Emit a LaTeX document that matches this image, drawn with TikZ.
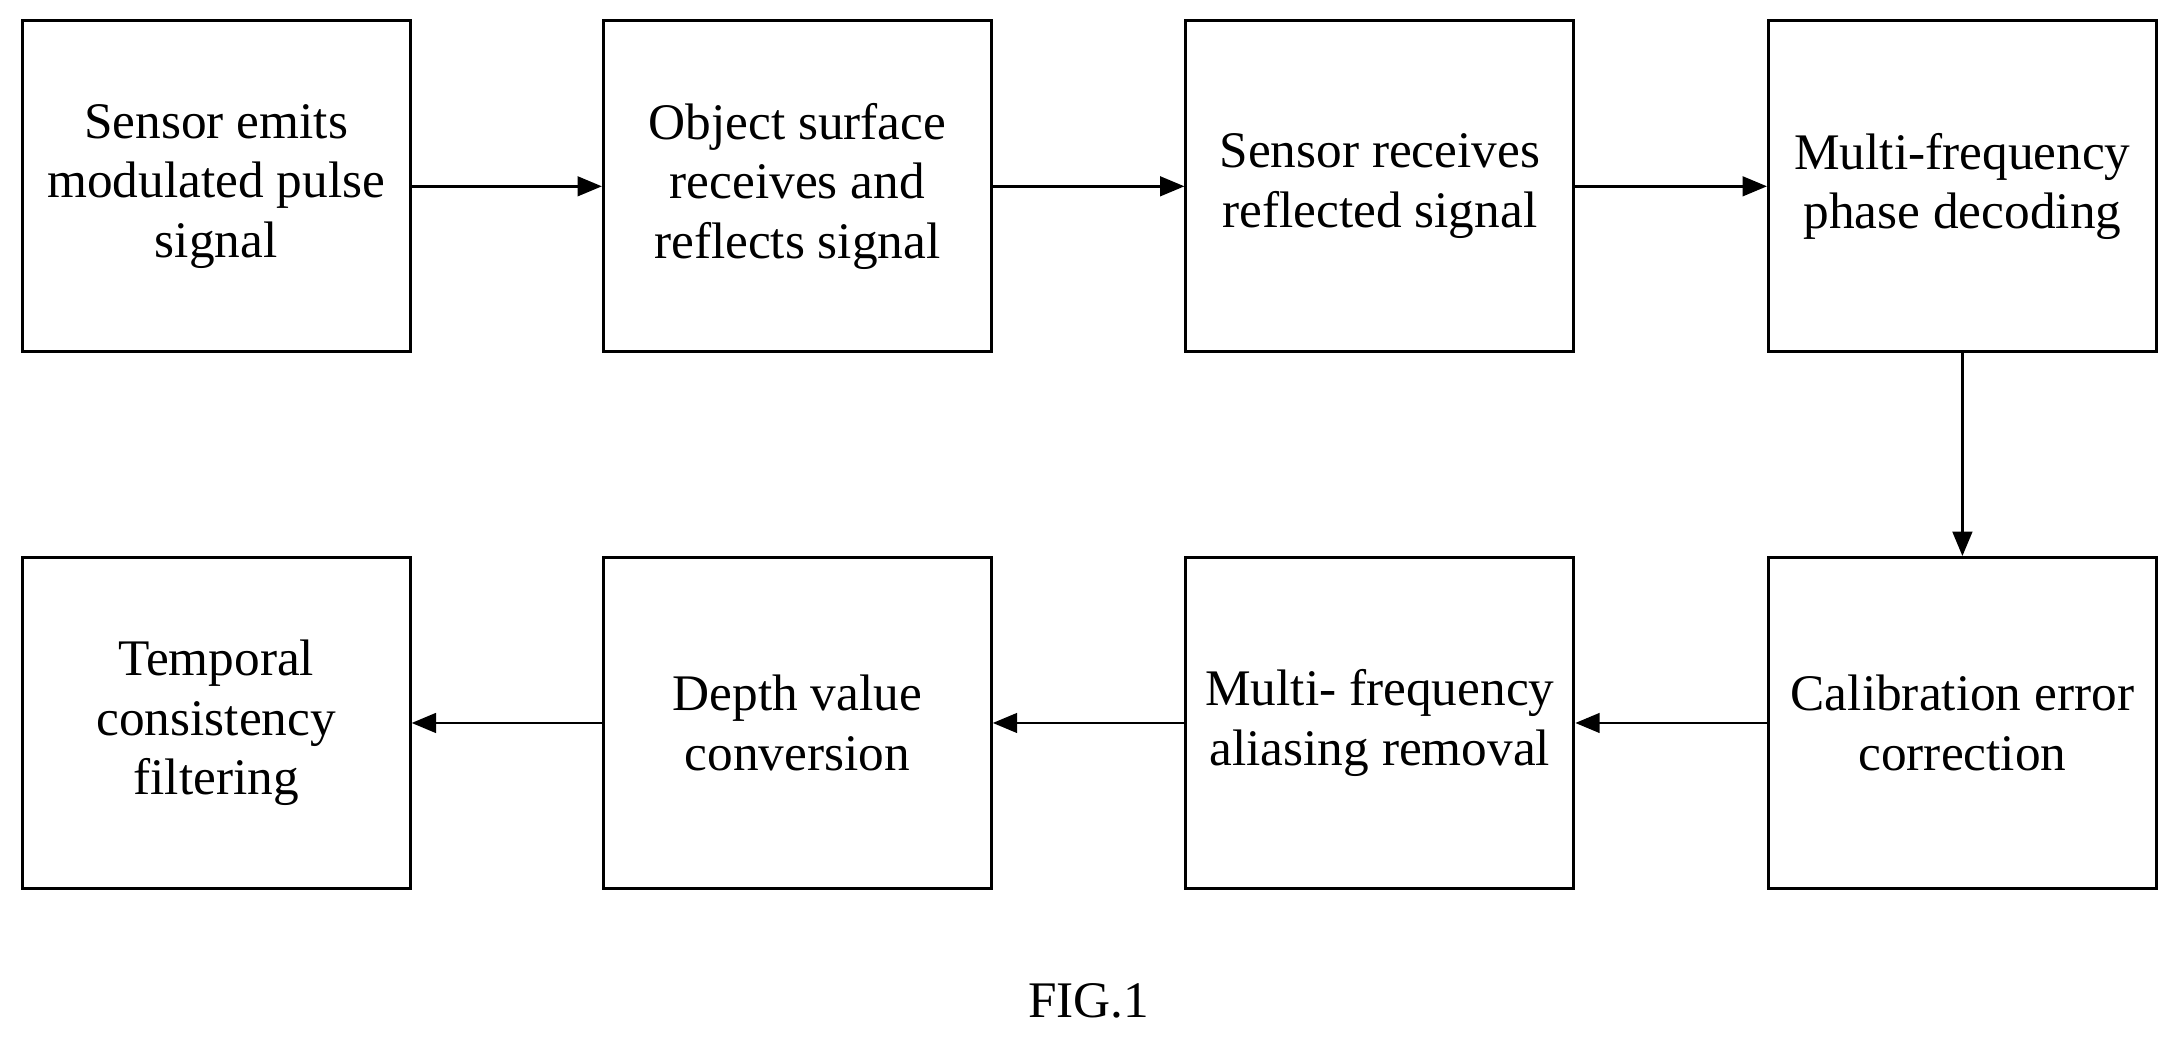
\documentclass[tikz,border=0pt]{standalone}
\usepackage{fontspec}
\setmainfont{Liberation Serif}
\usetikzlibrary{arrows.meta}
\begin{document}
\begin{tikzpicture}[x=0.1mm,y=-0.1mm,
box/.style={draw,line width=0.6pt,minimum width=27.9mm,minimum height=23.8mm,align=center,inner sep=0pt,font=\fontsize{10.5}{12.2}\selectfont},
arr/.style={-{Triangle[length=5pt,width=4pt]},line width=0.6pt}]
\useasboundingbox (0,0) rectangle (1568,746);
\node[box] (a) at (155.5,134) {Sensor emits\\modulated pulse\\signal};
\node[box] (b) at (573.5,134) {Object surface\\receives and\\reflects signal};
\node[box] (c) at (992.5,134) {Sensor receives\\reflected signal};
\node[box] (d) at (1411.5,134) {Multi-frequency\\phase decoding};
\node[box] (e) at (1411.5,520) {Calibration error\\correction};
\node[box] (f) at (992.5,520) {Multi- frequency\\aliasing removal};
\node[box] (g) at (573.5,520) {Depth value\\conversion};
\node[box] (h) at (155.5,520) {Temporal\\consistency\\filtering};
\node[font=\fontsize{10.5}{12}\selectfont] (t) at (783,720) {FIG.1};
\draw[arr] (a) -- (b); \draw[arr] (b) -- (c); \draw[arr] (c) -- (d);
\draw[arr] (d) -- (e); \draw[arr] (e) -- (f); \draw[arr] (f) -- (g); \draw[arr] (g) -- (h);
\end{tikzpicture}
\end{document}
